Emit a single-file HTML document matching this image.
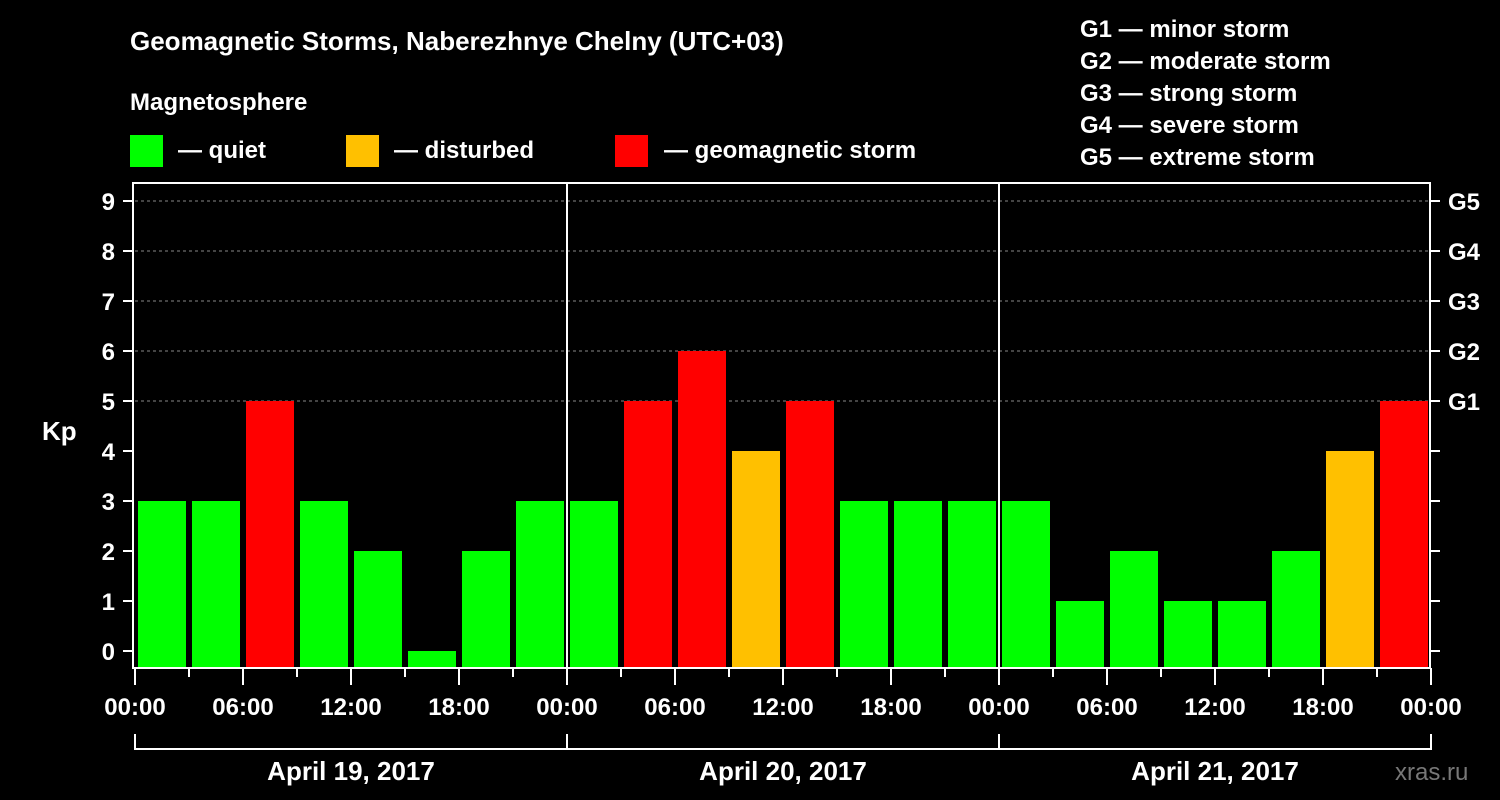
<!DOCTYPE html>
<html><head><meta charset="utf-8"><style>
body{margin:0;background:#000;}
svg{display:block;font-family:"Liberation Sans",Arial,sans-serif;font-weight:bold;}
</style></head><body>
<svg id="c" width="1500" height="800" viewBox="0 0 1500 800">
<rect width="1500" height="800" fill="#000"/>
<text x="130" y="50" fill="#fff" font-size="26">Geomagnetic Storms, Naberezhnye Chelny (UTC+03)</text>
<text x="130" y="110" fill="#fff" font-size="24">Magnetosphere</text>
<g><rect x="130" y="135" width="33" height="32" fill="#00ff00"/><text x="178" y="158" fill="#fff" font-size="24">— quiet</text></g>
<g><rect x="346" y="135" width="33" height="32" fill="#ffc000"/><text x="394" y="158" fill="#fff" font-size="24">— disturbed</text></g>
<g><rect x="615" y="135" width="33" height="32" fill="#ff0000"/><text x="664" y="158" fill="#fff" font-size="24">— geomagnetic storm</text></g>
<g fill="#fff" font-size="24">
<text x="1080" y="37">G1 — minor storm</text><text x="1080" y="69">G2 — moderate storm</text><text x="1080" y="101">G3 — strong storm</text><text x="1080" y="133">G4 — severe storm</text><text x="1080" y="165">G5 — extreme storm</text>
</g>
<text x="42" y="440" fill="#fff" font-size="26">Kp</text>
<text x="1395" y="780" fill="#777" font-size="24" font-weight="normal">xras.ru</text>
<g id="plot"></g>
</svg>
<script>
const values=[3,3,5,3,2,0,2,3, 3,5,6,4,5,3,3,3, 3,1,2,1,1,2,4,5];
const days=["April 19, 2017","April 20, 2017","April 21, 2017"];
const hourLabels=["00:00","06:00","12:00","18:00"];
const gLabels=["G1","G2","G3","G4","G5"];
const NS="http://www.w3.org/2000/svg";
const g=document.getElementById('plot');
const L=135,R=1431,T=183,B=668;
const x=h=>L+h*18;
const y=v=>651-v*50;
function mk(t,a,txt){const e=document.createElementNS(NS,t);for(const k in a)e.setAttribute(k,a[k]);if(txt!=null)e.textContent=txt;g.appendChild(e);return e;}
// grid
for(let v=5;v<=9;v++){const e=mk('line',{x1:L,x2:R,y1:y(v),y2:y(v),stroke:'#888','stroke-dasharray':'3,3','stroke-width':1});

}
// bars
values.forEach((v,i)=>{const c=v>=5?'#ff0000':(v>=4?'#ffc000':'#00ff00');
const e=mk('rect',{x:x(i*3)+3,y:y(v),width:48,height:B-y(v)-1,fill:c});

});
// day dividers
for(let d=1;d<3;d++){const e=mk('line',{x1:x(d*24),x2:x(d*24),y1:T,y2:B,stroke:'#fff','stroke-width':2});

}
// frame
const f=mk('rect',{x:L-2,y:T,width:R-L+1,height:B-T,fill:'none',stroke:'#fff','stroke-width':2});


// y ticks
for(let v=0;v<=9;v++){mk('line',{x1:L-12,x2:L-2,y1:y(v),y2:y(v),stroke:'#fff','stroke-width':2});
mk('line',{x1:R-1,x2:R+9,y1:y(v),y2:y(v),stroke:'#fff','stroke-width':2});
const t=mk('text',{x:L-20,y:y(v)+9,fill:'#fff','font-size':24,'text-anchor':'end'},String(v));

}
gLabels.forEach((s,i)=>{const t=mk('text',{x:1448,y:y(5+i)+9,fill:'#fff','font-size':24},s);

});
// x ticks
for(let h=0;h<=72;h+=3){const major=h%6==0;mk('line',{x1:x(h),x2:x(h),y1:B,y2:B+(major?17:9),stroke:'#fff','stroke-width':2});}
for(let h=0;h<=72;h+=6){const t=mk('text',{x:x(h),y:715,fill:'#fff','font-size':24,'text-anchor':'middle'},hourLabels[(h/6)%4]);

}
// day bracket
mk('line',{x1:L,x2:R,y1:749,y2:749,stroke:'#fff','stroke-width':2});
for(let d=0;d<=3;d++)mk('line',{x1:x(d*24),x2:x(d*24),y1:734,y2:750,stroke:'#fff','stroke-width':2});
days.forEach((s,d)=>{const t=mk('text',{x:x(d*24+12),y:780,fill:'#fff','font-size':26,'text-anchor':'middle'},s);

});
</script>
</body></html>
